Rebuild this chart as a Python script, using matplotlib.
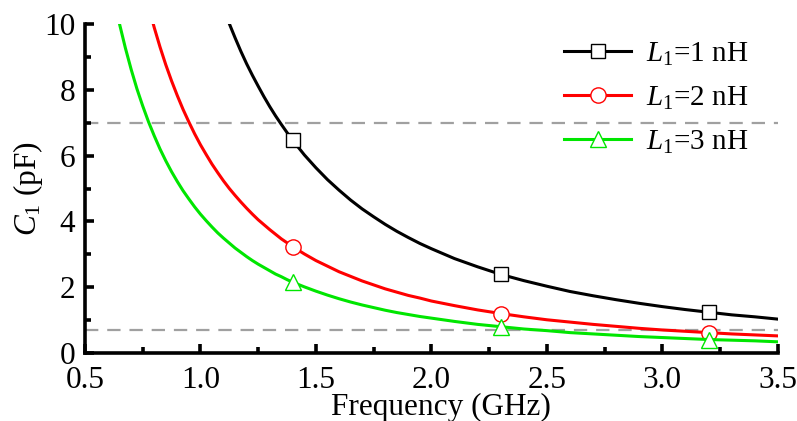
import matplotlib
matplotlib.use('Agg')
import matplotlib.pyplot as plt
from matplotlib.ticker import MultipleLocator

# frequency samples (GHz)
freq = [0.600, 0.625, 0.650, 0.675, 0.700, 0.725, 0.750, 0.775, 0.800, 0.825,
        0.850, 0.875, 0.900, 0.925, 0.950, 0.975, 1.000, 1.025, 1.050, 1.075,
        1.100, 1.125, 1.150, 1.175, 1.200, 1.225, 1.250, 1.275, 1.300, 1.325,
        1.350, 1.375, 1.400, 1.450, 1.500, 1.550, 1.600, 1.650, 1.700, 1.750,
        1.800, 1.850, 1.900, 1.950, 2.000, 2.100, 2.200, 2.300, 2.400, 2.500,
        2.600, 2.700, 2.800, 2.900, 3.000, 3.100, 3.200, 3.300, 3.400, 3.500]

# C1 (pF) for each inductance
c_l1 = [35.18, 32.42, 29.98, 27.80, 25.85, 24.10, 22.52, 21.09, 19.79, 18.61,
        17.53, 16.54, 15.64, 14.80, 14.03, 13.32, 12.67, 12.05, 11.49, 10.96,
        10.47, 10.01, 9.58, 9.17, 8.79, 8.44, 8.11, 7.79, 7.49, 7.21,
        6.95, 6.70, 6.46, 6.02, 5.63, 5.27, 4.95, 4.65, 4.38, 4.14,
        3.91, 3.70, 3.51, 3.33, 3.17, 2.87, 2.62, 2.39, 2.20, 2.03,
        1.87, 1.74, 1.62, 1.51, 1.41, 1.32, 1.24, 1.16, 1.10, 1.03]
c_l2 = [17.59, 16.21, 14.99, 13.90, 12.92, 12.05, 11.26, 10.54, 9.89, 9.30,
        8.76, 8.27, 7.82, 7.40, 7.02, 6.66, 6.33, 6.03, 5.74, 5.48,
        5.23, 5.00, 4.79, 4.59, 4.40, 4.22, 4.05, 3.90, 3.75, 3.61,
        3.47, 3.35, 3.23, 3.01, 2.81, 2.64, 2.47, 2.33, 2.19, 2.07,
        1.95, 1.85, 1.75, 1.67, 1.58, 1.44, 1.31, 1.20, 1.10, 1.01,
        0.94, 0.87, 0.81, 0.75, 0.70, 0.66, 0.62, 0.58, 0.55, 0.52]
c_l3 = [11.73, 10.81, 9.99, 9.27, 8.62, 8.03, 7.51, 7.03, 6.60, 6.20,
        5.84, 5.51, 5.21, 4.93, 4.68, 4.44, 4.22, 4.02, 3.83, 3.65,
        3.49, 3.34, 3.19, 3.06, 2.93, 2.81, 2.70, 2.60, 2.50, 2.40,
        2.32, 2.23, 2.15, 2.01, 1.88, 1.76, 1.65, 1.55, 1.46, 1.38,
        1.30, 1.23, 1.17, 1.11, 1.06, 0.96, 0.87, 0.80, 0.73, 0.68,
        0.62, 0.58, 0.54, 0.50, 0.47, 0.44, 0.41, 0.39, 0.37, 0.34]

labels = ['$L_1$=1 nH', '$L_1$=2 nH', '$L_1$=3 nH']
marker_freq = [1.4, 2.3, 3.2]
limit_lines = [7.0, 0.7]

plt.rcParams['font.family'] = ['Liberation Serif', 'DejaVu Serif']
plt.rcParams['mathtext.fontset'] = 'custom'
plt.rcParams['mathtext.rm'] = 'Liberation Serif'
plt.rcParams['mathtext.it'] = 'Liberation Serif:italic'
plt.rcParams['font.size'] = 22.5

fig = plt.figure(figsize=(7.97, 4.21), dpi=100)
ax = fig.add_axes([0.1066, 0.1615, 0.8694, 0.7815])

marks = [freq.index(f) for f in marker_freq]
styles = [('black', 's', 9.5), ('red', 'o', 11), ('#00e600', '^', 11)]

for y in limit_lines:
    ax.axhline(y, color='#a0a0a0', lw=1.6, ls=(0, (6, 4)), zorder=1)

for vals, lab, (col, mk, ms) in zip([c_l1, c_l2, c_l3], labels, styles):
    ax.plot(freq, vals, color=col, lw=2.2, marker=mk, ms=ms,
            mfc='white', mec=col, mew=1.0, markevery=marks, label=lab, zorder=3)

ax.set_xlim(0.5, 3.5)
ax.set_ylim(0, 10)
ax.xaxis.set_major_locator(MultipleLocator(0.5))
ax.xaxis.set_minor_locator(MultipleLocator(0.25))
ax.yaxis.set_major_locator(MultipleLocator(2))
ax.yaxis.set_minor_locator(MultipleLocator(1))
ax.xaxis.set_major_formatter(plt.FuncFormatter(lambda v, p: f'{v:.1f}'))

for s in ['top', 'right']:
    ax.spines[s].set_visible(False)
for s in ['left', 'bottom']:
    ax.spines[s].set_linewidth(2.6)
ax.tick_params(which='major', direction='in', length=6.5, width=2.6, pad=7)
ax.tick_params(axis='x', which='major', pad=9)
ax.tick_params(which='minor', direction='in', length=4, width=2.6)

ax.set_xlabel('Frequency (GHz)')
ax.xaxis.set_label_coords(0.514, -0.121)
ax.set_ylabel('$C_1$ (pF)', labelpad=-1)

ax.legend(loc='upper right', frameon=False, handlelength=2.3, labelspacing=0.58,
          handletextpad=0.5, fontsize=21, bbox_to_anchor=(0.995, 1.03))

fig.savefig('out.png', dpi=100)
